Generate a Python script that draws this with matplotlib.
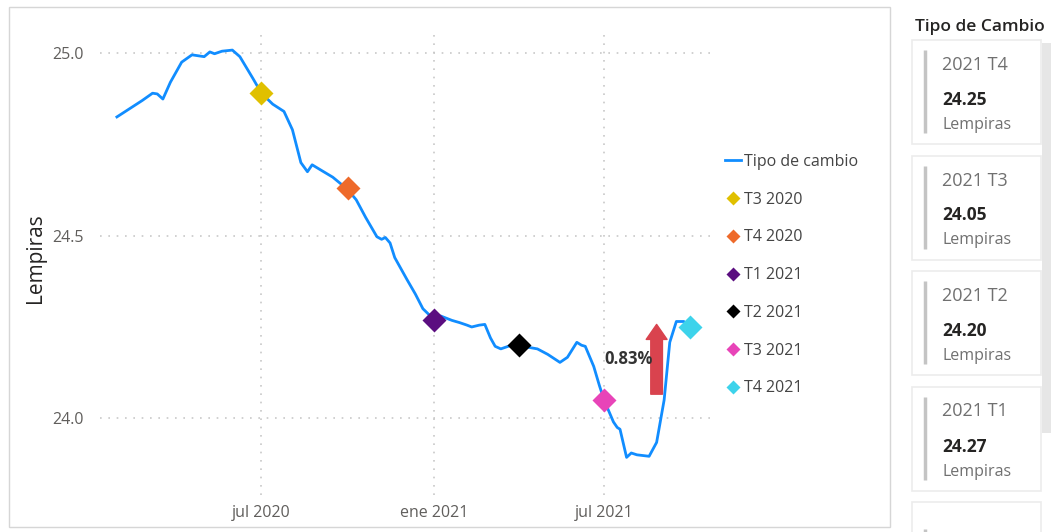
import numpy as np
import pandas as pd
import matplotlib
matplotlib.use("Agg")
import matplotlib.pyplot as plt
import matplotlib.dates as mdates
from matplotlib.lines import Line2D
from matplotlib.patches import Rectangle, FancyArrowPatch

plt.rcParams['font.family'] = ['Open Sans', 'DejaVu Sans']

# exchange rate series
fechas = pd.to_datetime([
    "2020-01-29", "2020-02-10", "2020-02-25", "2020-03-07", "2020-03-12", "2020-03-18",
    "2020-03-26", "2020-04-07", "2020-04-18", "2020-05-01", "2020-05-07", "2020-05-12",
    "2020-05-20", "2020-05-31", "2020-06-08", "2020-06-15", "2020-06-22", "2020-07-01",
    "2020-07-13", "2020-07-25", "2020-08-03", "2020-08-12", "2020-08-19", "2020-08-24",
    "2020-09-02", "2020-09-15", "2020-10-01", "2020-10-10", "2020-10-20", "2020-11-01",
    "2020-11-06", "2020-11-10", "2020-11-15", "2020-11-20", "2020-12-03", "2020-12-12",
    "2020-12-20", "2021-01-01", "2021-01-08", "2021-01-13", "2021-01-20", "2021-01-28",
    "2021-02-05", "2021-02-10", "2021-02-18", "2021-02-24", "2021-03-02", "2021-03-07",
    "2021-03-13", "2021-03-22", "2021-04-01", "2021-04-10", "2021-04-21", "2021-05-02",
    "2021-05-15", "2021-05-23", "2021-06-02", "2021-06-07", "2021-06-11", "2021-06-20",
    "2021-06-26", "2021-07-01", "2021-07-11", "2021-07-15", "2021-07-18", "2021-07-25",
    "2021-07-30", "2021-08-05", "2021-08-18", "2021-08-26", "2021-09-03", "2021-09-09",
    "2021-09-16", "2021-09-24", "2021-10-01",
])
tipo_cambio = [
    24.825, 24.845, 24.870, 24.890, 24.888, 24.874,
    24.920, 24.975, 24.995, 24.990, 25.003, 24.998,
    25.005, 25.008, 24.990, 24.960, 24.930, 24.890,
    24.860, 24.840, 24.790, 24.700, 24.675, 24.694,
    24.680, 24.660, 24.626, 24.598, 24.550, 24.497,
    24.490, 24.495, 24.480, 24.440, 24.380, 24.340,
    24.300, 24.270, 24.280, 24.275, 24.268, 24.262,
    24.255, 24.250, 24.255, 24.257, 24.220, 24.197,
    24.190, 24.198, 24.205, 24.195, 24.190, 24.175,
    24.153, 24.167, 24.208, 24.200, 24.197, 24.142,
    24.090, 24.050, 23.990, 23.975, 23.970, 23.893,
    23.905, 23.900, 23.896, 23.934, 24.050, 24.208,
    24.265, 24.265, 24.250,
]

# quarter markers
trimestres = ["T3 2020", "T4 2020", "T1 2021", "T2 2021", "T3 2021", "T4 2021"]
fechas_trim = pd.to_datetime(["2020-07-01", "2020-10-01", "2021-01-01",
                              "2021-04-01", "2021-07-01", "2021-10-01"])
valores_trim = [24.89, 24.63, 24.27, 24.20, 24.05, 24.25]
colores_trim = ['#E0C000', '#EE6A2A', '#5B0E80', '#000000', '#E844B8', '#3DD3EB']

# cards (the fifth one is scrolled almost out of view)
tarjetas = ["2021 T4", "2021 T3", "2021 T2", "2021 T1", "2020 T4"]
tarjetas_val = ["24.25", "24.05", "24.20", "24.27"]

cambio_pct = "0.83%"
flecha_fecha = pd.Timestamp("2021-08-26")
flecha_desde, flecha_hasta = 24.066, 24.257

W, H = 1051, 532
fig = plt.figure(figsize=(W / 100, H / 100), dpi=100, facecolor='white')

# background layer in pixel coords
bg = fig.add_axes([0, 0, 1, 1], zorder=0)
bg.set_xlim(0, W)
bg.set_ylim(H, 0)
bg.axis('off')
bg.add_patch(Rectangle((9, 7), 881, 520, facecolor='white', edgecolor='#d6d6d6', lw=1))
bg.text(915, 27, "Tipo de Cambio", fontsize=12.5, fontweight='semibold', color='#252423',
        va='center', ha='left')
bg.add_patch(Rectangle((1042, 43), 12, 390, facecolor='#e6e6e6', edgecolor='none'))
for i, t in enumerate(tarjetas):
    top = 40 + i * 115.5
    dy = 17 if i == 4 else 0
    bg.add_patch(Rectangle((912, top), 129, 104, facecolor='white', edgecolor='#ececec',
                           lw=1.2, clip_on=True))
    bg.plot([925, 925], [top + 10 + dy, min(top + 93, H)], color='#c4c4c4', lw=2.5,
            solid_capstyle='butt', clip_on=True)
    bg.text(942, top + 25 + dy, t, fontsize=13, color='#707070', va='center', clip_on=True)
    if i < len(tarjetas_val):
        bg.text(942, top + 60, tarjetas_val[i], fontsize=12.5, fontweight='bold',
                color='#252423', va='center')
        bg.text(942, top + 85, "Lempiras", fontsize=11.5, color='#707070', va='center')

# main chart
ax = fig.add_axes([100 / W, 1 - 495 / H, 612 / W, 465 / H], zorder=2)
ax.patch.set_alpha(0)
ax.plot(fechas, tipo_cambio, color='#118DFF', lw=2.0, zorder=3)
for f, v, c in zip(fechas_trim, valores_trim, colores_trim):
    ax.plot(f, v, marker='D', ms=12.5, color=c, mec='none', zorder=4)

ax.set_xlim(pd.Timestamp("2020-01-11"), pd.Timestamp("2021-10-24"))
ax.set_ylim(23.79, 25.063)
ax.set_yticks([24.0, 24.5, 25.0])
ax.yaxis.set_major_formatter(matplotlib.ticker.FormatStrFormatter('%.1f'))
ax.set_xticks(pd.to_datetime(["2020-07-01", "2021-01-01", "2021-07-01"]))
ax.set_xticklabels(["jul 2020", "ene 2021", "jul 2021"])
ax.tick_params(length=0, labelsize=11.5, colors='#605E5C')
ax.tick_params(axis='y', pad=12)
ax.tick_params(axis='x', pad=7)
for s in ax.spines.values():
    s.set_visible(False)
ax.grid(True, color='#c8c8c8', linestyle=(0, (1, 4)), lw=1.2)
ax.set_ylabel("Lempiras", fontsize=15, color='#252423')
ax.yaxis.set_label_coords(-0.088, 0.51)

# arrow + label
arr = FancyArrowPatch((mdates.date2num(flecha_fecha), flecha_desde),
                      (mdates.date2num(flecha_fecha), flecha_hasta),
                      arrowstyle='simple,head_length=0.9,head_width=1.25,tail_width=0.7',
                      mutation_scale=12, color='#D9434E', shrinkA=0, shrinkB=0, zorder=5)
ax.add_patch(arr)
ax.annotate(cambio_pct, xy=(flecha_fecha, 24.162), xytext=(-3, 0),
            textcoords='offset points', ha='right', va='center',
            fontsize=12, fontweight='bold', color='#333333', zorder=6)

# legend
handles = [Line2D([], [], color='#118DFF', lw=2, label="Tipo de cambio")]
for t, c in zip(trimestres, colores_trim):
    handles.append(Line2D([], [], marker='D', ls='none', ms=7, color=c, mec='none', label=t))
fig.legend(handles=handles, loc='upper left', bbox_to_anchor=(725 / W, 1 - 154 / H),
           frameon=False, fontsize=11.5, labelcolor='#444444', handlelength=1.0,
           handletextpad=0.2, labelspacing=1.36, borderpad=0, borderaxespad=0)

fig.savefig("out.png", dpi=100, facecolor='white')
